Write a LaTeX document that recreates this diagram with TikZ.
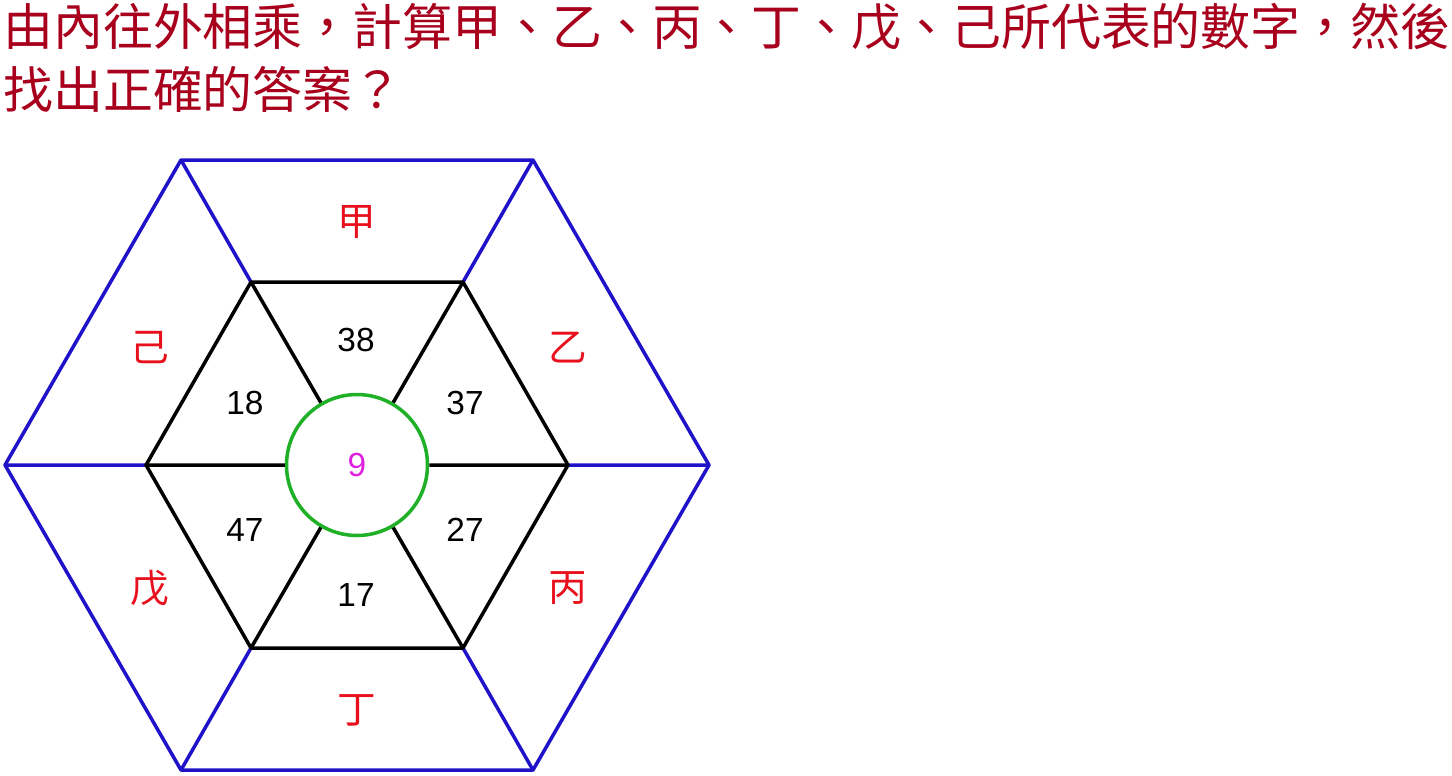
\documentclass[tikz,border=0pt]{standalone}
\usepackage{fontspec}
\setmainfont{Liberation Sans}
\newfontfamily\cjk{Noto Sans CJK TC}
\usepackage{tikz}
\definecolor{titlered}{HTML}{A8001C}
\definecolor{labelred}{HTML}{E8101C}
\definecolor{hexblue}{HTML}{2012C8}
\definecolor{ringgreen}{HTML}{20B028}
\definecolor{numpink}{HTML}{E020E0}

\begin{document}
\begin{tikzpicture}[x=0.02cm, y=-0.02cm,
    every node/.style={inner sep=0pt},
    outerline/.style={draw=hexblue, line width=2pt, line join=round},
    innerline/.style={draw=black, line width=2pt, line join=round},
    unknown/.style={font=\cjk\fontsize{22}{26}\selectfont, text=labelred},
    num/.style={font=\fontsize{19}{23}\selectfont},
    titletext/.style={font=\cjk\fontsize{28.4}{34}\selectfont, text=titlered, anchor=west}
]
\useasboundingbox (0,0) rectangle (1452,775);

% question
\node[titletext] (title1) at (3,27) {由內往外相乘，計算甲、乙、丙、丁、戊、己所代表的數字，然後};
\node[titletext] (title2) at (3,89) {找出正確的答案？};

% hexagon corners
\coordinate (o1) at (5,465);
\coordinate (o2) at (181,160);
\coordinate (o3) at (533,160);
\coordinate (o4) at (709,465);
\coordinate (o5) at (533,770);
\coordinate (o6) at (181,770);
\coordinate (i1) at (146,465);
\coordinate (i2) at (251,282);
\coordinate (i3) at (463,282);
\coordinate (i4) at (568,465);
\coordinate (i5) at (463,648);
\coordinate (i6) at (251,648);

\node[circle, draw=ringgreen, line width=2pt, minimum size=2.82cm,
      num, text=numpink] (c) at (357,465) {9};

\draw[outerline] (o1) -- (o2) -- (o3) -- (o4) -- (o5) -- (o6) -- cycle;
\draw[outerline] (i1) -- (o1) (i2) -- (o2) (i3) -- (o3)
                 (i4) -- (o4) (i5) -- (o5) (i6) -- (o6);
\draw[innerline] (i1) -- (i2) -- (i3) -- (i4) -- (i5) -- (i6) -- cycle;
\draw[innerline] (c) -- (i1) (c) -- (i2) (c) -- (i3)
                 (c) -- (i4) (c) -- (i5) (c) -- (i6);

% inner numbers
\node[num] (n38) at (356,340) {38};
\node[num] (n37) at (465,403) {37};
\node[num] (n27) at (465,530) {27};
\node[num] (n17) at (356,595) {17};
\node[num] (n47) at (245,530) {47};
\node[num] (n18) at (245,403) {18};

% unknowns
\node[unknown] (jia)  at (357,222) {甲};
\node[unknown] (yi)   at (568,348) {乙};
\node[unknown] (bing) at (568,588) {丙};
\node[unknown] (ding) at (357,710) {丁};
\node[unknown] (wu)   at (150,588) {戊};
\node[unknown] (ji)   at (150,348) {己};
\end{tikzpicture}
\end{document}
